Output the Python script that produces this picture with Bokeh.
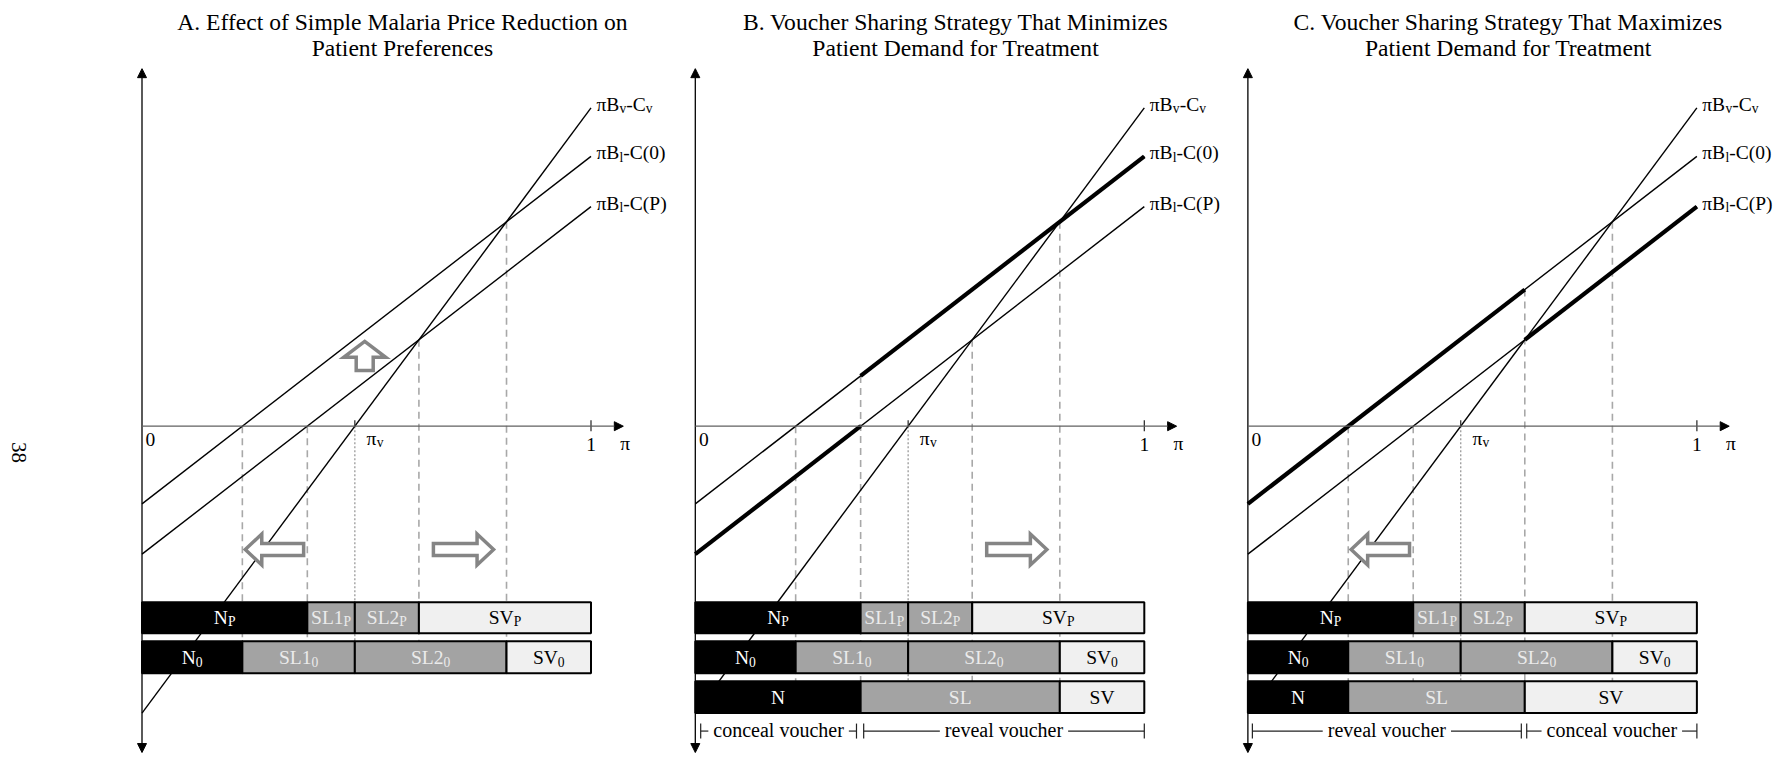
import math
from bokeh.plotting import figure
from bokeh.models import Range1d, ColumnDataSource, Arrow, NormalHead
from bokeh.core.properties import value
from bokeh.embed import file_html
from bokeh.resources import INLINE

# ---------------- data ----------------
panel_titles = [
    ("A. Effect of Simple Malaria Price Reduction on", "Patient Preferences"),
    ("B. Voucher Sharing Strategy That Minimizes", "Patient Demand for Treatment"),
    ("C. Voucher Sharing Strategy That Maximizes", "Patient Demand for Treatment"),
]
# utility lines u(pi) = slope * pi + intercept
line_slopes = [1.348, 0.774, 0.774]           # B_v, B_l, B_l
line_intercepts = [-0.639, -0.173, -0.285]    # -C_v, -C(0), -C(P)
line_label_parts = [
    [("πB", 0), ("v", 1), ("-C", 0), ("v", 1)],
    [("πB", 0), ("l", 1), ("-C(0)", 0)],
    [("πB", 0), ("l", 1), ("-C(P)", 0)],
]
row_names = ["N", "SL1", "SL2", "SV"]
row_subs = ["P", "0"]
row3_names = ["N", "SL", "SV"]
seg_fill = {"N": "#000000", "SL": "#a3a3a3", "SV": "#f0f0f0"}
row_tops = [-0.392, -0.479, -0.568]
row_bottoms = [-0.461, -0.550, -0.639]
brackets_B = [("conceal voucher", 0.012, 0.359), ("reveal voucher", 0.375, 1.0)]
brackets_C = [("reveal voucher", 0.010, 0.609), ("conceal voucher", 0.621, 1.0)]
arrow_panels = [0, 0, 0, 1, 2]
arrow_dirs = ["up", "left", "right", "right", "left"]
arrow_tail = [0.124, 0.360, 0.649, 0.649, 0.360]
arrow_tip = [0.189, 0.230, 0.783, 0.783, 0.230]
arrow_cross = [0.496, -0.2746, -0.2746, -0.2746, -0.2746]
page_number = "38"

# ---------------- geometry helpers ----------------
PX = 449.0           # pixels per unit
X0, Y0 = 141.5, 425.7
W, H = 1782, 758
offsets = [0.0, 1.2323, 2.463]
FONT = "Liberation Serif"
SHIFT = 6.5          # upward correction of text baselines (px)


def d(px):
    return px / PX


TW = {'A': 722, 'B': 667, 'C': 667, 'D': 722, 'E': 611, 'F': 556, 'G': 722, 'H': 722, 'I': 333,
      'J': 389, 'K': 722, 'L': 611, 'M': 889, 'N': 722, 'O': 722, 'P': 556, 'Q': 722, 'R': 667,
      'S': 556, 'T': 611, 'U': 722, 'V': 722, 'W': 944, 'X': 722, 'Y': 722, 'Z': 611,
      'a': 444, 'b': 500, 'c': 444, 'd': 500, 'e': 444, 'f': 333, 'g': 500, 'h': 500, 'i': 278,
      'j': 278, 'k': 500, 'l': 278, 'm': 778, 'n': 500, 'o': 500, 'p': 500, 'q': 500, 'r': 333,
      's': 389, 't': 278, 'u': 500, 'v': 500, 'w': 722, 'x': 500, 'y': 500, 'z': 444,
      ' ': 250, '.': 250, '-': 333, '(': 333, ')': 333, 'π': 520}


def text_w(s, size):
    return sum(TW.get(ch, 500) for ch in s) / 1000.0 * size


def line_y(i, x):
    return line_slopes[i] * x + line_intercepts[i]


def zero(i):
    return -line_intercepts[i] / line_slopes[i]


def cross(i, j):
    return (line_intercepts[j] - line_intercepts[i]) / (line_slopes[i] - line_slopes[j])


pi_C0 = zero(1)
pi_CP = zero(2)
pi_v = zero(0)
pi_vP = cross(0, 2)
pi_v0 = cross(0, 1)

p = figure(width=W, height=H,
           x_range=Range1d(-X0 / PX, (W - X0) / PX),
           y_range=Range1d(-(H - Y0) / PX, Y0 / PX),
           output_backend="svg", toolbar_location=None,
           x_axis_location=None, y_axis_location=None, min_border=0)
p.outline_line_color = None
p.background_fill_color = "white"
p.border_fill_color = "white"
p.xgrid.grid_line_color = None
p.ygrid.grid_line_color = None
p.xgrid.visible = False
p.ygrid.visible = False

texts = {}


def add_text(x, y, s, size, color="black", align="left", baseline="alphabetic", angle=0.0):
    key = (size, color, align, baseline, angle)
    g = texts.setdefault(key, {"x": [], "y": [], "text": []})
    g["x"].append(x)
    g["y"].append(y + (d(SHIFT) if baseline == "alphabetic" else 0))
    g["text"].append(s)


def rich(parts, x, y, size, color="black", align="left"):
    sub = round(size * 0.7, 1)
    total = sum(text_w(s, sub if b else size) for s, b in parts)
    xs = x - d(total) / 2 if align == "center" else x
    for s, b in parts:
        sz = sub if b else size
        yy = y - d(size * 0.22) if b else y
        add_text(xs, yy, s, sz, color)
        xs += d(text_w(s, sz))


thin_x0, thin_x1, thin_y0, thin_y1 = [], [], [], []
thick_x0, thick_x1, thick_y0, thick_y1 = [], [], [], []
dash_x, dash_top, dash_bot = [], [], []
dot_x, dot_top, dot_bot = [], [], []
q_l, q_r, q_t, q_b, q_c = [], [], [], [], []
br_x0, br_x1, br_y0, br_y1 = [], [], [], []
tick_x0, tick_x1, tick_y0, tick_y1 = [], [], [], []
arr_xs, arr_ys = [], []

LBL = 19.5
for k, off in enumerate(offsets):
    # titles
    tcx = off + 0.58
    add_text(tcx, 0.8864, panel_titles[k][0], 23.6, align="center")
    add_text(tcx, 0.8272, panel_titles[k][1], 23.6, align="center")

    # axes
    p.add_layout(Arrow(start=NormalHead(size=9, fill_color="black", line_color="black"),
                       end=NormalHead(size=9, fill_color="black", line_color="black"),
                       x_start=off, y_start=-0.7268, x_end=off, y_end=0.7963,
                       line_color="black", line_width=1.3))
    p.add_layout(Arrow(end=NormalHead(size=9, fill_color="black", line_color="black"),
                       x_start=off, y_start=0, x_end=off + 1.072, y_end=0,
                       line_color="#606060", line_width=1.3))
    for tx in (1.0, pi_v):
        tick_x0.append(off + tx); tick_x1.append(off + tx)
        tick_y0.append(d(6)); tick_y1.append(-d(5) if tx == 1.0 else 0)
    add_text(off + 0.008, -0.043, "0", LBL)
    add_text(off + 1.0, -0.0557, "1", LBL, align="center")
    add_text(off + 1.076, -0.052, "π", LBL, align="center")
    rich([("π", 0), ("v", 1)], off + 0.50, -0.041, LBL)

    # utility lines
    for i in range(3):
        thin_x0.append(off); thin_x1.append(off + 1.0)
        thin_y0.append(line_y(i, 0)); thin_y1.append(line_y(i, 1.0))
        rich(line_label_parts[i], off + 1.012, line_y(i, 1.0) - d(3.0), LBL)

    if k == 1:
        segs = [(2, 0.0, pi_CP), (1, pi_CP, 1.0)]
    elif k == 2:
        segs = [(1, 0.0, pi_vP), (2, pi_vP, 1.0)]
    else:
        segs = []
    for i, a, b in segs:
        thick_x0.append(off + a); thick_x1.append(off + b)
        thick_y0.append(line_y(i, a)); thick_y1.append(line_y(i, b))

    # vertical guides
    bottom = row_bottoms[1] if k == 0 else row_bottoms[2]
    guides = [(pi_C0, 0.0),
              (pi_CP, line_y(1, pi_CP) if k == 1 else 0.0),
              (pi_vP, line_y(1, pi_vP) if k == 2 else line_y(0, pi_vP)),
              (pi_v0, line_y(0, pi_v0))]
    for gx, gt in guides:
        dash_x.append(off + gx); dash_top.append(gt); dash_bot.append(bottom)
    dot_x.append(off + pi_v); dot_top.append(0.0); dot_bot.append(bottom)

    # bars
    rows = [([0.0, pi_CP, pi_v, pi_vP, 1.0], row_names, row_subs[0]),
            ([0.0, pi_C0, pi_v, pi_v0, 1.0], row_names, row_subs[1])]
    if k == 1:
        rows.append(([0.0, pi_CP, pi_v0, 1.0], row3_names, None))
    elif k == 2:
        rows.append(([0.0, pi_C0, pi_vP, 1.0], row3_names, None))
    for r, (edges, names, sub) in enumerate(rows):
        yc = (row_tops[r] + row_bottoms[r]) / 2
        for j, nm in enumerate(names):
            kind = "N" if nm.startswith("N") else ("SV" if nm.startswith("SV") else "SL")
            q_l.append(off + edges[j]); q_r.append(off + edges[j + 1])
            q_t.append(row_tops[r]); q_b.append(row_bottoms[r])
            q_c.append(seg_fill[kind])
            col = {"N": "white", "SL": "#ebebeb", "SV": "black"}[kind]
            parts = [(nm, 0)] + ([(sub, 1)] if sub else [])
            rich(parts, off + (edges[j] + edges[j + 1]) / 2, yc - d(6.5), LBL, col, align="center")

    # brackets
    if k in (1, 2):
        by = -0.679
        for label, a, b in (brackets_B if k == 1 else brackets_C):
            a += off; b += off
            mid = (a + b) / 2
            half = d(text_w(label, 20)) / 2 + d(5)
            br_x0 += [a, mid + half]; br_x1 += [mid - half, b]
            br_y0 += [by, by]; br_y1 += [by, by]
            for e in (a, b):
                tick_x0.append(e); tick_x1.append(e)
                tick_y0.append(by + d(7.5)); tick_y1.append(by - d(7.5))
            add_text(mid, by - d(5.0), label, 20, align="center")

# hollow arrows
for pn, dr, t0, t1, c in zip(arrow_panels, arrow_dirs, arrow_tail, arrow_tip, arrow_cross):
    off = offsets[pn]
    if dr == "up":
        hl, hw, bw = d(16), d(21), d(8.5)
        xc = off + c
        yh = t1 - hl
        arr_xs.append([xc, xc + hw, xc + bw, xc + bw, xc - bw, xc - bw, xc - hw])
        arr_ys.append([t1, yh, yh, t0, t0, yh, yh])
    else:
        hl, hh, bh = d(16.5), d(15.5), d(6)
        sgn = 1 if dr == "right" else -1
        xt, xe = off + t1, off + t0
        xh = xt - sgn * hl
        arr_xs.append([xt, xh, xh, xe, xe, xh, xh])
        arr_ys.append([c, c + hh, c + bh, c + bh, c - bh, c - bh, c - hh])

# ---------------- drawing ----------------
p.segment(x0=dash_x, x1=dash_x, y0=dash_top, y1=dash_bot, line_color="#a8a8a8",
          line_width=1.6, line_dash="7 5")
p.segment(x0=dot_x, x1=dot_x, y0=dot_top, y1=dot_bot, line_color="#9a9a9a",
          line_width=1.3, line_dash="2 2")
p.segment(x0=thin_x0, x1=thin_x1, y0=thin_y0, y1=thin_y1, line_color="black", line_width=1.4)
p.segment(x0=thick_x0, x1=thick_x1, y0=thick_y0, y1=thick_y1, line_color="black", line_width=4.2)
p.quad(left=q_l, right=q_r, top=q_t, bottom=q_b, fill_color=q_c, line_color="black", line_width=2)
p.segment(x0=br_x0, x1=br_x1, y0=br_y0, y1=br_y1, line_color="#222222", line_width=1.2)
p.segment(x0=tick_x0, x1=tick_x1, y0=tick_y0, y1=tick_y1, line_color="#222222", line_width=1.2)
p.patches(xs=arr_xs, ys=arr_ys, fill_color="white", line_color="#858585", line_width=3.5,
          line_join="miter")

add_text(d(18 - X0), d(Y0 - 452), page_number, 21, align="center", baseline="middle",
         angle=-math.pi / 2)

for (size, color, align, baseline, angle), g in texts.items():
    src = ColumnDataSource(g)
    p.text(x="x", y="y", text="text", source=src, text_font=value(FONT),
           text_font_size=value(f"{size}px"), text_color=color, text_align=align,
           text_baseline=baseline, angle=angle)

open("out.html", "w").write(file_html(p, INLINE))
